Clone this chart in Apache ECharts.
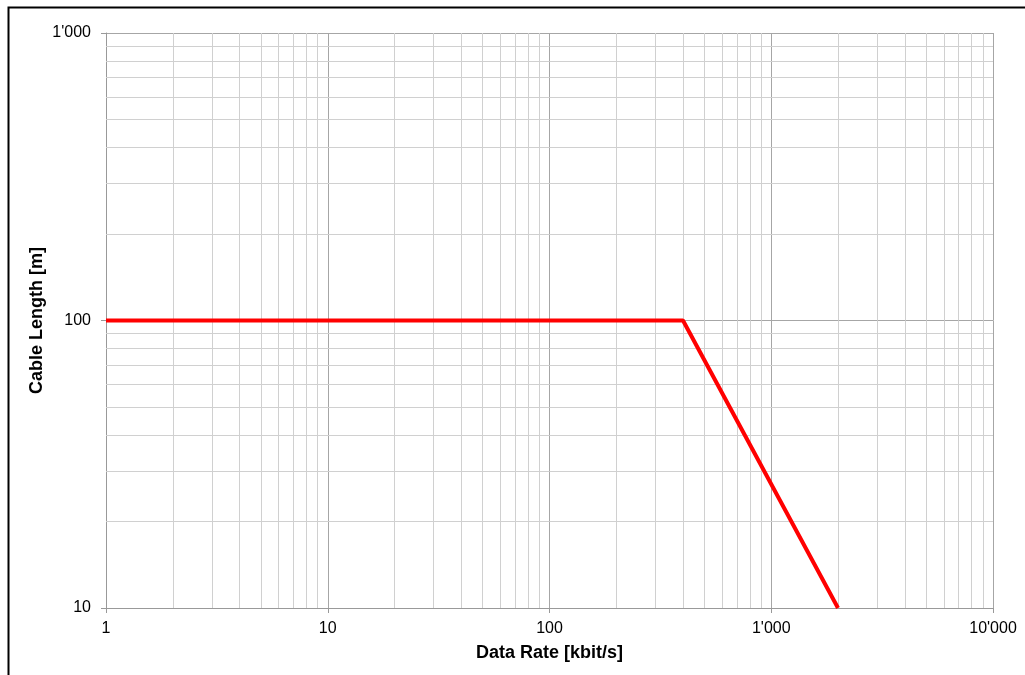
<!DOCTYPE html>
<html>
<head>
<meta charset="utf-8">
<script src="https://cdn.jsdelivr.net/npm/echarts@6/dist/echarts.min.js"></script>
<style>html,body{margin:0;padding:0;background:#fff;}#c{width:1025px;height:675px;}</style>
</head>
<body>
<div id="c"></div>
<script>
// Data
const dataRate = [1, 400, 2000];          // kbit/s
const cableLength = [100, 100, 10];        // m
const xMinorGrid = [2,3,4,5,6,7,8,9,20,30,40,50,60,70,80,90,200,300,400,500,600,700,800,900,2000,3000,4000,5000,6000,7000,8000,9000];
const yMinorGrid = [20,30,40,50,60,70,80,90,200,300,400,500,600,700,800,900];
const xTitle = 'Data Rate [kbit/s]';
const yTitle = 'Cable Length [m]';

function fmt(v){ return String(Math.round(v)).replace(/\B(?=(\d{3})+(?!\d))/g, "'"); }

const chart = echarts.init(document.getElementById('c'), null, {renderer:'canvas'});
const font = 'Liberation Sans, Arial, sans-serif';
const minorStyle = {color:'#d0d0d0', width:1, type:'solid'};
const markData = xMinorGrid.map(v => ({xAxis: v})).concat(yMinorGrid.map(v => ({yAxis: v})));

chart.setOption({
  animation:false,
  backgroundColor:'#fff',
  graphic:[{type:'rect', shape:{x:8.5, y:7.5, width:1100, height:700}, style:{fill:'none', stroke:'#000', lineWidth:2}, silent:true}],
  grid:{left:106, top:33, right:32, bottom:67, containLabel:false},
  xAxis:{
    type:'log', logBase:10, min:1, max:10000,
    name:xTitle, nameLocation:'middle', nameGap:36, nameMoveOverlap:false,
    nameTextStyle:{fontFamily:font, fontWeight:'bold', fontSize:18, color:'#000'},
    axisLine:{show:true, lineStyle:{color:'#999', width:1}},
    axisTick:{show:true, inside:false, length:5, lineStyle:{color:'#999'}},
    axisLabel:{formatter:fmt, fontFamily:font, fontSize:16, color:'#000', margin:13},
    splitLine:{show:true, lineStyle:{color:'#a6a6a6', width:1}},
    minorTick:{show:false}, minorSplitLine:{show:false}
  },
  yAxis:{
    type:'log', logBase:10, min:10, max:1000,
    name:yTitle, nameLocation:'middle', nameGap:60, nameRotate:90, nameMoveOverlap:false,
    nameTextStyle:{fontFamily:font, fontWeight:'bold', fontSize:18, color:'#000'},
    axisLine:{show:true, lineStyle:{color:'#999', width:1}},
    axisTick:{show:true, inside:false, length:5, lineStyle:{color:'#999'}},
    axisLabel:{formatter:fmt, fontFamily:font, fontSize:16, color:'#000', margin:15},
    splitLine:{show:true, lineStyle:{color:'#a6a6a6', width:1}}
  },
  series:[
    {
      type:'line', z:1, silent:true,
      data: dataRate.map((x,i)=>[x, cableLength[i]]),
      symbol:'none', lineStyle:{opacity:0},
      markLine:{silent:true, symbol:['none','none'], label:{show:false}, lineStyle:minorStyle, animation:false, data:markData}
    },
    {
      type:'line', z:5,
      data: dataRate.map((x,i)=>[x, cableLength[i]]),
      symbol:'none',
      lineStyle:{color:'#ff0000', width:4}
    }
  ]
});
</script>
</body>
</html>
